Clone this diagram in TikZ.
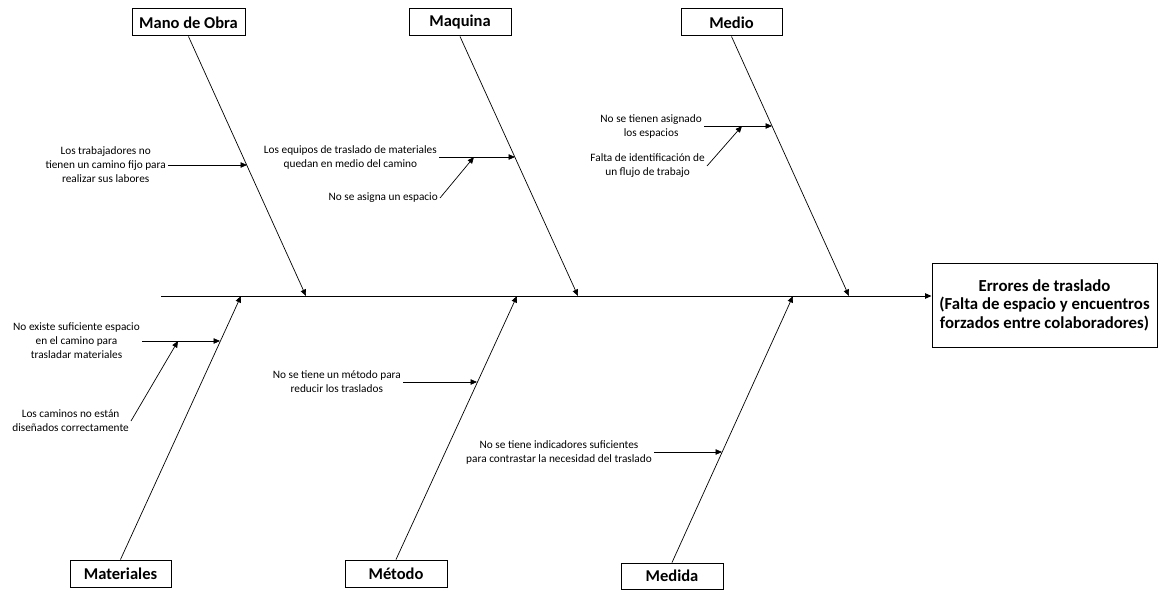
\documentclass[tikz,border=0pt]{standalone}
\usepackage{fontspec}
\setmainfont{Carlito}
\usetikzlibrary{arrows.meta}
\tikzset{
	catbox/.style={draw, line width=1pt, minimum height=27pt, inner sep=1pt, font=\fontsize{16.5}{18}\selectfont\bfseries},
	causetxt/.style={align=center, inner sep=2pt, font=\fontsize{11.3}{14}\selectfont},
	arr/.style={line width=0.7pt, -{Triangle[length=6.5pt,width=5.5pt]}}
}

\begin{document}
\begin{tikzpicture}[x=1pt, y=-1pt]
		%%%%% START %%%%%
		\useasboundingbox (0, 0) rectangle (1166, 591);
		
		% categories
		\node[catbox, minimum width=113pt] (mo) at (188.5, 22.5) {Mano de Obra};
		\node[catbox, minimum width=102pt] (maq) at (460, 22.5) {Maquina};
		\node[catbox, minimum width=101pt] (med) at (731.5, 22.5) {Medio};
		\node[catbox, minimum width=101pt] (mat) at (120.5, 573.5) {Materiales};
		\node[catbox, minimum width=102pt] (met) at (396, 573.5) {Método};
		\node[catbox, minimum width=102pt, minimum height=26pt] (mda) at (672, 576) {Medida};
		
		% effect
		\node[catbox, minimum width=225pt, minimum height=84pt, align=center,
			font=\fontsize{16.8}{18.5}\selectfont\bfseries] (eff) at (1044.5, 305)
			{Errores de traslado\\(Falta de espacio y encuentros\\forzados entre colaboradores)};
		
		% spine
		\coordinate (spL) at (161, 296);
		\draw[line width=1pt, -{Triangle[length=6.5pt,width=5.5pt]}] (spL) -- (spL -| eff.west);
		
		% branch tips
		\coordinate (tmo) at (306, 296);
		\coordinate (tmaq) at (578, 296);
		\coordinate (tmed) at (849, 296);
		\coordinate (tmat) at (241, 296);
		\coordinate (tmet) at (517, 296);
		\coordinate (tmda) at (793, 296);
		
		\draw[arr] (mo.south) -- (tmo);
		\draw[arr] (maq.south) -- (tmaq);
		\draw[arr] (med.south) -- (tmed);
		\draw[arr] (mat.north) -- (tmat);
		\draw[arr] (met.north) -- (tmet);
		\draw[arr] (mda.north) -- (tmda);
		
		% points on the branches
		\coordinate (pmo) at (247, 165);
		\coordinate (pmaq) at (515, 157);
		\coordinate (pmaq2) at (474, 157);
		\coordinate (pmed) at (772, 126);
		\coordinate (pmed2) at (742, 126);
		\coordinate (pmat) at (220, 341);
		\coordinate (pmat2) at (178, 341);
		\coordinate (pmet) at (477, 382);
		\coordinate (pmda) at (722, 452);
		
		% causes
		\node[causetxt, anchor=east] (trab) at (168, 165) {Los trabajadores no\\tienen un camino fijo para\\realizar sus labores};
		\node[causetxt, anchor=east] (equi) at (439, 157) {Los equipos de traslado de materiales\\quedan en medio del camino};
		\node[causetxt, anchor=east] (asig) at (440, 198) {No se asigna un espacio};
		\node[causetxt, anchor=east] (esp) at (704, 126) {No se tienen asignado\\los espacios};
		\node[causetxt, anchor=east] (flujo) at (707, 166) {Falta de identificación de\\un flujo de trabajo};
		\node[causetxt, anchor=east] (exis) at (142, 341) {No existe suficiente espacio\\en el camino para\\trasladar materiales};
		\node[causetxt, anchor=east] (cami) at (131, 421) {Los caminos no están\\diseñados correctamente};
		\node[causetxt, anchor=east] (redu) at (403, 382) {No se tiene un método para\\reducir los traslados};
		\node[causetxt, anchor=east] (indi) at (654, 452) {No se tiene indicadores suficientes\\para contrastar la necesidad del traslado};
		
		\draw[arr] (trab.east) -- (pmo);
		\draw[arr] (equi.east) -- (pmaq);
		\draw[arr] (asig.east) -- (pmaq2);
		\draw[arr] (esp.east) -- (pmed);
		\draw[arr] (flujo.east) -- (pmed2);
		\draw[arr] (exis.east) -- (pmat);
		\draw[arr] (cami.east) -- (pmat2);
		\draw[arr] (redu.east) -- (pmet);
		\draw[arr] (indi.east) -- (pmda);
		%%%%% END %%%%%
\end{tikzpicture}
\end{document}
